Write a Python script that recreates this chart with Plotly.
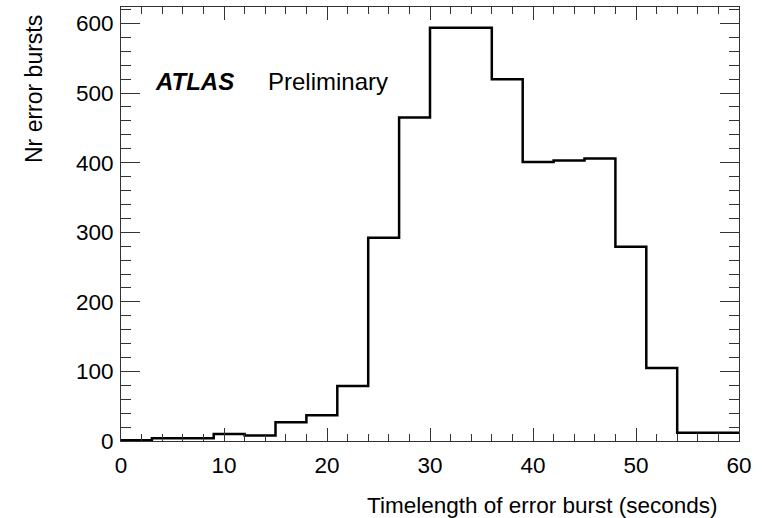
import plotly.graph_objects as go

# Data
bin_edges = [0, 3, 6, 9, 12, 15, 18, 21, 24, 27, 30, 33, 36, 39, 42, 45, 48, 51, 54, 57, 60]
counts = [1, 4, 4, 10, 8, 27, 37, 79, 292, 465, 594, 594, 520, 401, 403, 406, 279, 105, 12, 12]
x_ticks = [0, 10, 20, 30, 40, 50, 60]
y_ticks = [0, 100, 200, 300, 400, 500, 600]

xs = bin_edges
ys = counts + [counts[-1]]

FONT = "Liberation Sans, Arial, Helvetica, sans-serif"

fig = go.Figure()
fig.add_trace(go.Scatter(
    x=xs, y=ys, mode="lines", line=dict(shape="hv", color="black", width=2.5),
    hoverinfo="skip", showlegend=False,
))

W, H = 765, 518
L, R, T, B = 121, 26, 7, 77

fig.update_layout(
    width=W, height=H,
    margin=dict(l=L, r=R, t=T, b=B),
    paper_bgcolor="white", plot_bgcolor="white",
    font=dict(family=FONT, size=22.5, color="black"),
    showlegend=False,
)

fig.update_xaxes(
    range=[0, 60], tickvals=x_ticks, ticktext=[str(v) for v in x_ticks],
    ticks="inside", ticklen=13, tickwidth=1, tickcolor="#333",
    minor=dict(dtick=2, ticks="inside", ticklen=7, tickwidth=1, tickcolor="#333"),
    showline=True, linecolor="#333", linewidth=1, mirror="ticks",
    showgrid=False, zeroline=False, ticklabelstandoff=4,
    tickfont=dict(family=FONT, size=22.5, color="black"),
)
fig.update_yaxes(
    range=[0, 623.7], tickvals=y_ticks, ticktext=[str(v) for v in y_ticks],
    ticks="inside", ticklen=19, tickwidth=1, tickcolor="#333",
    minor=dict(dtick=20, ticks="inside", ticklen=10, tickwidth=1, tickcolor="#333"),
    showline=True, linecolor="#333", linewidth=1, mirror="ticks",
    showgrid=False, zeroline=False, ticklabelstandoff=2,
    tickfont=dict(family=FONT, size=22.5, color="black"),
)

# Axis titles (ROOT style: aligned to the end of the axes)
fig.add_annotation(
    text="Timelength of error burst (seconds)", xref="paper", yref="paper",
    x=(720 - L) / (W - L - R), y=-(505 - (H - B)) / (H - T - B),
    xanchor="right", yanchor="middle", showarrow=False,
    font=dict(family=FONT, size=22.5, color="black"),
)
fig.add_annotation(
    text="Nr error bursts", xref="paper", yref="paper", textangle=-90,
    x=-(L - 34) / (W - L - R), y=(H - B - 13) / (H - T - B),
    xanchor="center", yanchor="top", showarrow=False,
    font=dict(family=FONT, size=23, color="black"),
)
# Labels
fig.add_annotation(
    text="<b><i>ATLAS</i></b>", xref="paper", yref="paper",
    x=(153 - L) / (W - L - R), y=(H - B - 82) / (H - T - B),
    xanchor="left", yanchor="middle", showarrow=False,
    font=dict(family=FONT, size=24, color="black"),
)
fig.add_annotation(
    text="Preliminary", xref="paper", yref="paper",
    x=(266 - L) / (W - L - R), y=(H - B - 82) / (H - T - B),
    xanchor="left", yanchor="middle", showarrow=False,
    font=dict(family=FONT, size=24, color="black"),
)

fig.write_html("out.html")
